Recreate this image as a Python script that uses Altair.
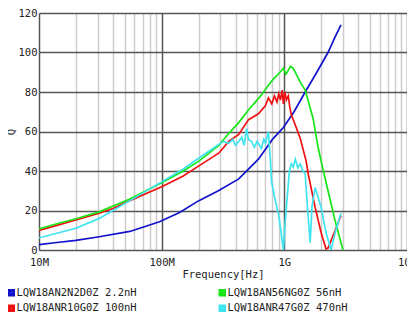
import altair as alt
import pandas as pd

# Series names (legend is filled column by column)
names = ["LQW18AN2N2D0Z 2.2nH", "LQW18ANR10G0Z 100nH", "LQW18AN56NG0Z 56nH", "LQW18ANR47G0Z 470nH"]
colors = ["#1212cc", "#f01212", "#16e616", "#3ee4f0"]

# Frequency in MHz, Q values
blue_f = [10, 14, 20, 31, 55, 96, 140, 201, 290, 425, 615, 800, 982, 1200, 1479, 1800, 2270, 2600, 2896]
blue_q = [2.7, 3.8, 4.9, 6.7, 9.4, 14.3, 19, 25, 30, 36, 46, 56, 62, 70, 80, 89, 100, 108, 114]

red_f = [10, 14, 20, 31, 40, 55, 100, 150, 201, 292, 352, 425, 511, 615, 700, 742, 790, 830, 870, 900,
         930, 960, 982, 1010, 1040, 1077, 1110, 1140, 1250, 1348, 1507, 1564, 1782, 1995, 2188, 2270,
         2600, 2896]
red_q = [9.9, 12.5, 15.2, 18.7, 21, 25, 32, 37.5, 42.6, 49, 55, 58.5, 66, 69, 73, 77, 74, 78, 75, 79,
         76, 81, 74, 80, 76, 78, 72, 68.5, 62, 56.5, 45, 38.6, 21.7, 8.7, 0.5, 1, 10, 17.5]

green_f = [10, 14, 20, 31, 55, 100, 150, 201, 292, 352, 425, 511, 582, 660, 742, 800, 860, 920, 982,
           1030, 1077, 1120, 1183, 1250, 1348, 1479, 1718, 1884, 1995, 2270, 2589, 3006]
green_q = [10.7, 13.3, 15.8, 19.3, 25.8, 34, 40, 45, 53, 59, 64.5, 71, 75, 79, 83.4, 86, 88, 90, 92,
           89, 91, 93, 92, 89, 85, 81, 66.5, 52, 45, 30, 15, 0]

cyan_f = [10, 14, 20, 31, 40, 55, 100, 150, 201, 250, 292, 320, 352, 380, 400, 425, 450, 470, 492, 510,
          540, 570, 600, 651, 680, 702, 742, 760, 771, 785, 830, 894, 940, 982, 1010, 1050, 1100, 1140,
          1183, 1228, 1290, 1348, 1420, 1479, 1550, 1624, 1680, 1782, 1900, 1995, 2188, 2404, 2600, 2896]
cyan_q = [6.2, 8.5, 11, 16, 20, 25, 34.5, 41, 46.6, 50.5, 53.5, 55, 54, 56, 53, 55, 57, 53, 61.5, 56,
          55, 52, 55, 51.5, 56, 54, 60, 50, 45, 35, 27, 18.7, 9, 0, 12, 25, 40, 43.6,
          42, 46, 41.6, 43.6, 40, 38.6, 20, 3.7, 22, 31.6, 26, 21.7, 8.7, 0, 9, 18.6]

x_ticks = [v * m for m in (10, 100, 1000) for v in range(1, 10)] + [10000]
y_ticks = [0, 20, 40, 60, 80, 100, 120]

rows = []
for name, fs, qs in zip(names, [blue_f, red_f, green_f, cyan_f], [blue_q, red_q, green_q, cyan_q]):
    for i, (f, q) in enumerate(zip(fs, qs)):
        rows.append({"series": name, "f": f, "q": q, "i": i})
df = pd.DataFrame(rows)

font = "DejaVu Sans Mono"

chart = alt.Chart(df).mark_line(strokeWidth=1.7, clip=True).encode(
    x=alt.X("f:Q", scale=alt.Scale(type="log", domain=[10, 10000], nice=False),
            axis=alt.Axis(values=x_ticks, title="Frequency[Hz]", ticks=False, domain=False,
                          labelExpr="datum.value==10?'10M':datum.value==100?'100M':datum.value==1000?'1G':datum.value==10000?'10G':''",
                          labelPadding=7, labelFont=font, labelFontSize=10.5, labelColor="#222",
                          titleFont=font, titleFontSize=10.5, titleFontWeight="normal", titleColor="#222",
                          titlePadding=2, labelOverlap=False, labelFlush=False,
                          gridColor={"condition": {"test": "indexof([10,100,1000,10000], datum.value) >= 0", "value": "#555555"}, "value": "#cccccc"},
                          gridWidth=1.5, gridOpacity=1)),
    y=alt.Y("q:Q", scale=alt.Scale(domain=[0, 120], nice=False),
            axis=alt.Axis(values=y_ticks, title="Q", ticks=False, domain=False,
                          labelPadding=2, labelFont=font, labelFontSize=10.5, labelColor="#222",
                          titleFont=font, titleFontSize=10.5, titleFontWeight="normal", titleColor="#222",
                          titlePadding=2, gridColor="#555555", gridWidth=1.5, gridOpacity=1)),
    color=alt.Color("series:N", scale=alt.Scale(domain=names, range=colors),
                    legend=alt.Legend(title=None, orient="none", legendX=-33, legendY=274, columns=2,
                                      columnPadding=76, rowPadding=-3, symbolType="square",
                                      symbolSize=16, symbolStrokeWidth=3.5, symbolOpacity=1,
                                      labelFont=font, labelFontSize=10.5, labelColor="#222",
                                      labelOffset=0, padding=0, labelLimit=300)),
    order="i:Q",
    detail="series:N",
).properties(
    width=368, height=237,
    autosize=alt.AutoSizeParams(type="none"),
    padding={"left": 31, "top": 5, "right": 0, "bottom": 66},
).configure_view(
    stroke="#555555", strokeWidth=2
).configure(background="white")

chart.save("out.html", embed_options={"renderer": "svg", "actions": False})
